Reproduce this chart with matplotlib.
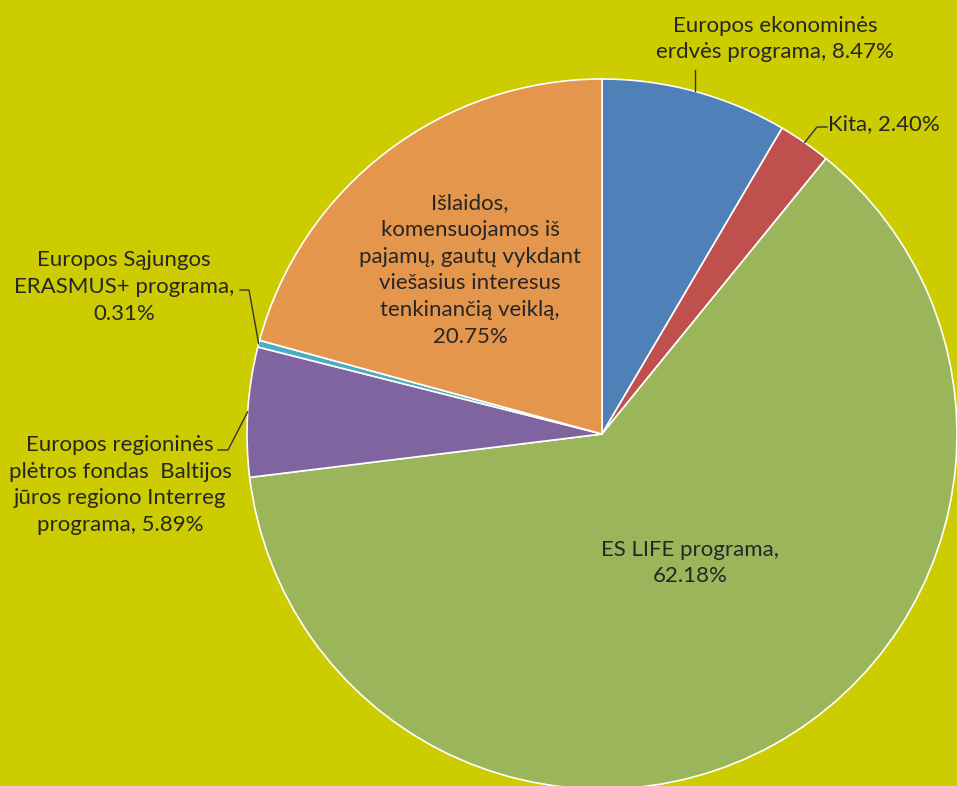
import matplotlib.pyplot as plt
import numpy as np

# slice data, clockwise from 12 o'clock
labels = [
    "Europos ekonominės\nerdvės programa, 8.47%",
    "Kita, 2.40%",
    "ES LIFE programa,\n62.18%",
    "Europos regioninės\nplėtros fondas  Baltijos\njūros regiono Interreg\nprograma, 5.89%",
    "Europos Sąjungos\nERASMUS+ programa,\n0.31%",
    "Išlaidos,\nkomensuojamos iš\npajamų, gautų vykdant\nviešasius interesus\ntenkinančią veiklą,\n20.75%",
]
shares = [8.47, 2.40, 62.18, 5.89, 0.31, 20.75]
colors = ["#4f81b8", "#c0504d", "#9bb55b", "#8064a0", "#4bacc6", "#e3964c"]

W, H = 957, 786
bg = "#cccc00"
txt = "#262626"
plt.rcParams['font.family'] = ['Lato', 'DejaVu Sans']

fig = plt.figure(figsize=(W / 100, H / 100), dpi=100, facecolor=bg)
ax = fig.add_axes([0, 0, 1, 1])
ax.set_facecolor(bg)

# pie in pixel coords (y up)
cx, cy, r = 602, H - 434, 355
wedges, _ = ax.pie(shares, colors=colors, startangle=90, counterclock=False,
                   center=(cx, cy), radius=r,
                   wedgeprops=dict(edgecolor="white", linewidth=1.2))
ax.set_xlim(0, W)
ax.set_ylim(0, H)
ax.set_aspect("equal")
ax.axis("off")


def edge_pt(i):
    w = wedges[i]
    a = np.deg2rad((w.theta1 + w.theta2) / 2)
    return cx + r * np.cos(a), cy + r * np.sin(a)


fs = 16
# text positions given in pixel (top-down) coords
def put(s, x, y, **kw):
    ax.text(x, H - y, s, ha="center", va="center", fontsize=fs, color=txt,
            linespacing=1.42, **kw)


put(labels[0], 775, 39)
put(labels[1], 884, 124)
put(labels[2], 690, 563)
put(labels[3], 120, 485)
put(labels[4], 124, 287)
put(labels[5], 470, 270)

lc = "#333333"
# leader lines
x0, y0 = edge_pt(0)
ax.plot([x0, x0], [y0, H - 70], color=lc, lw=1)
x1, y1 = edge_pt(1)
ax.plot([x1, 817, 827], [y1, H - 127, H - 127], color=lc, lw=1)
x3, y3 = edge_pt(3)
ax.plot([x3, 228, 218], [y3, H - 450, H - 450], color=lc, lw=1)
x4, y4 = edge_pt(4)
ax.plot([x4, 249, 240], [y4, H - 290, H - 290], color=lc, lw=1)

plt.savefig("out.png", dpi=100, facecolor=bg)
